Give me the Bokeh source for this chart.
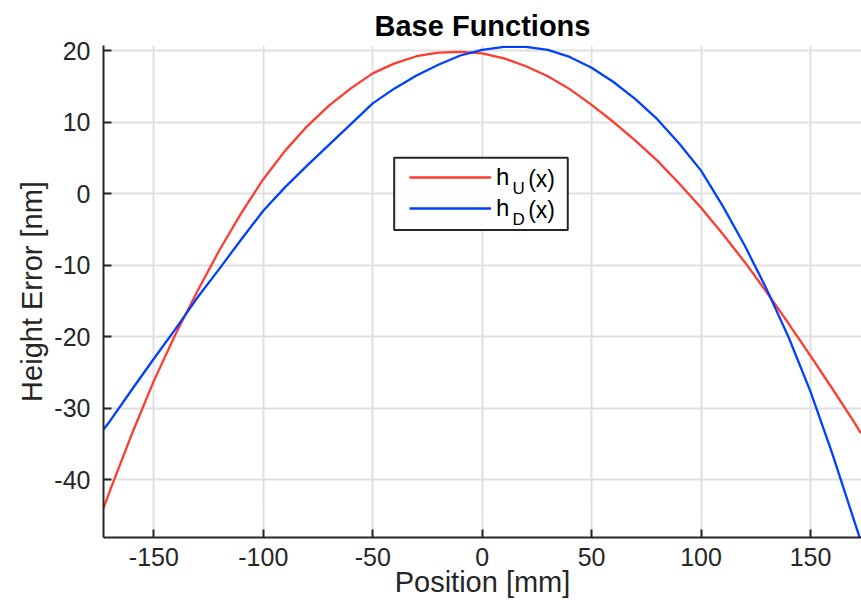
from bokeh.plotting import figure
from bokeh.models import (ColumnDataSource, FixedTicker, Range1d, Legend, LegendItem, Label,
                          BoxAnnotation)
from bokeh.embed import file_html
from bokeh.resources import INLINE

# ---- data ----
position_mm = [-173, -170, -160, -150, -140, -130, -120, -110, -100, -90, -80, -70,
               -60, -50, -40, -30, -20, -10, 0, 10, 20, 30, 40, 50, 60, 70, 80,
               90, 100, 110, 120, 130, 140, 150, 160, 170, 173]
h_u = [-44.0, -41.5, -33.6, -26.2, -19.6, -13.6, -7.9, -2.7, 2.0, 6.0, 9.4, 12.3,
       14.7, 16.8, 18.2, 19.2, 19.7, 19.8, 19.6, 18.9, 17.8, 16.4, 14.6, 12.4, 10.0, 7.4, 4.6,
       1.4, -2.0, -5.7, -9.6, -13.8, -18.2, -22.7, -27.3, -32.0, -33.5]
h_d = [-33.0, -31.8, -27.4, -23.1, -18.9, -14.5, -10.5, -6.4, -2.4, 0.9, 3.9, 6.8,
       9.7, 12.6, 14.7, 16.5, 18.0, 19.3, 20.1, 20.5, 20.5, 20.1, 19.1, 17.6, 15.6, 13.2, 10.4,
       7.0, 3.2, -1.8, -7.3, -13.4, -20.1, -27.7, -36.4, -45.8, -48.6]
x_ticks = [-150, -100, -50, 0, 50, 100, 150]
y_ticks = [-40, -30, -20, -10, 0, 10, 20]
subscripts = ["U", "D"]

FONT = "Liberation Sans"
INK = "#262626"
RED = "#ff3b2f"
BLUE = "#0040ff"

src = ColumnDataSource(dict(x=position_mm, hu=h_u, hd=h_d))

p = figure(width=861, height=600, output_backend="svg", toolbar_location=None,
           x_range=Range1d(-173, 173.3), y_range=Range1d(-48.1, 20.7),
           min_border_left=103, min_border_right=0, min_border_top=45, min_border_bottom=62,
           x_axis_label="Position [mm]", y_axis_label="Height Error [nm]")
p.outline_line_color = None
p.background_fill_color = "white"

p.title.text = "Base Functions"
p.title.align = "center"
p.title.text_font = FONT
p.title.text_font_size = "29px"
p.title.text_font_style = "bold"
p.title.text_color = "black"
p.title.standoff = 7

for ax, ticks in ((p.xaxis[0], x_ticks), (p.yaxis[0], y_ticks)):
    ax.ticker = FixedTicker(ticks=ticks)
    ax.major_label_overrides = {t: str(t) for t in ticks}
    ax.minor_tick_line_color = None
    ax.major_tick_in = 8
    ax.major_tick_out = 0
    ax.major_tick_line_width = 2
    ax.major_tick_line_color = INK
    ax.axis_line_width = 2
    ax.axis_line_color = INK
    ax.major_label_text_font = FONT
    ax.major_label_text_font_size = "25px"
    ax.major_label_text_color = INK
    ax.axis_label_text_font = FONT
    ax.axis_label_text_font_size = "29px"
    ax.axis_label_text_font_style = "normal"
    ax.axis_label_text_color = INK

p.xaxis.major_label_standoff = 10
p.xaxis.axis_label_standoff = -3
p.yaxis.major_label_standoff = 13
p.yaxis.axis_label_standoff = 3

p.grid.grid_line_color = "#e0e0e0"
p.grid.grid_line_width = 2

# opaque legend box (white, dark border) behind the legend entries
p.add_layout(BoxAnnotation(left=-40.2, right=39.1, bottom=-5.1, top=5.0,
                           fill_color="white", fill_alpha=1.0,
                           line_color=INK, line_alpha=1.0, line_width=2))

r_u = p.line("x", "hu", source=src, line_color=RED, line_width=2.3, line_join="round")
r_d = p.line("x", "hd", source=src, line_color=BLUE, line_width=2.3, line_join="round")

legend = Legend(items=[LegendItem(label="h", renderers=[r_u]),
                       LegendItem(label="h", renderers=[r_d])],
                location=(306, 315), orientation="vertical",
                glyph_width=82, glyph_height=20, label_height=20, label_width=50,
                label_standoff=5, padding=0, spacing=3, margin=0,
                border_line_color=None, background_fill_alpha=0.0,
                label_text_font=FONT, label_text_font_size="24px",
                label_text_color="black", label_text_baseline="alphabetic")
p.add_layout(legend)

# subscripts and "(x)" next to the legend's "h"
for sub, ybase in zip(subscripts, (2.0, -2.3)):
    p.add_layout(Label(x=13.8, y=ybase - 1.3, text=sub, text_font=FONT, text_font_size="17px",
                       text_color="black", text_baseline="alphabetic"))
    p.add_layout(Label(x=21.0, y=ybase, text="(x)", text_font=FONT, text_font_size="23px",
                       text_color="black", text_baseline="alphabetic"))

open("out.html", "w").write(file_html(p, INLINE))
